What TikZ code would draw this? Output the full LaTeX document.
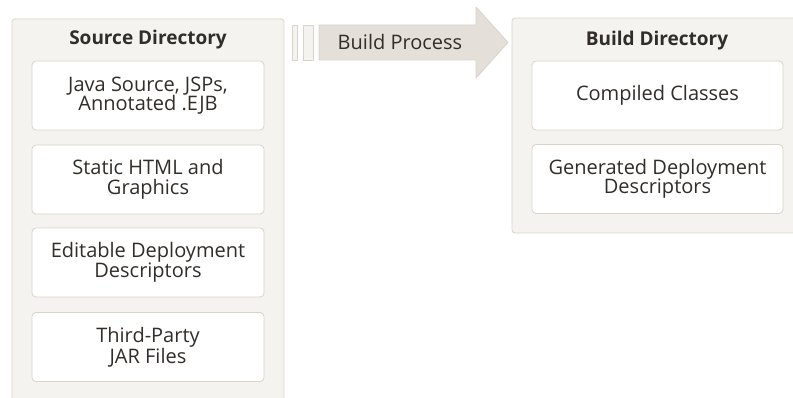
\documentclass[tikz,border=0pt]{standalone}
\usepackage{fontspec}
\setmainfont{Open Sans}
\usepackage{xcolor}
\definecolor{frame}{HTML}{D9D3C9}
\definecolor{panel}{HTML}{F5F3EF}
\definecolor{flow}{HTML}{E4DFD8}
\definecolor{ink}{HTML}{312D2A}

\begin{document}
\begin{tikzpicture}[x=1pt,y=-1pt]
    \tikzstyle{dir}=[draw=frame,fill=panel,line width=.8pt,rounded corners=3pt,inner sep=0pt]
    \tikzstyle{item}=[draw=frame,fill=white,line width=.8pt,rounded corners=4pt,align=center,text=ink,font=\fontsize{20}{19.5}\selectfont,inner sep=0pt]
    \tikzstyle{title}=[text=ink,font=\fontsize{19}{20}\selectfont\bfseries]
    \tikzstyle{bar}=[draw=frame,fill=panel,line width=.8pt]
    \tikzstyle{flowarrow}=[draw=frame,fill=flow,line width=.8pt,line join=round]
    \useasboundingbox (0,0) rectangle (793,398);
    % directories
    \node[dir,minimum width=272pt,minimum height=390pt] (src) at (148,214) {};
    \node[dir,minimum width=290pt,minimum height=215pt] (bld) at (657,125.5) {};
    \node[title] (srct) at (148,40) {Source Directory};
    \node[title] (bldt) at (657,41) {Build Directory};
    % source items
    \node[item,minimum width=232pt,minimum height=69pt] (java) at (148,95.5) {Java Source, JSPs,\\Annotated .EJB};
    \node[item,minimum width=232pt,minimum height=69pt] (html) at (148,179.5) {Static HTML and\\Graphics};
    \node[item,minimum width=232pt,minimum height=69pt] (edd) at (148,262.5) {Editable Deployment\\Descriptors};
    \node[item,minimum width=232pt,minimum height=69pt] (jar) at (148,347) {Third-Party\\JAR Files};
    % build items
    \node[item,minimum width=251pt,minimum height=69pt] (cls) at (657.5,95.5) {Compiled Classes};
    \node[item,minimum width=251pt,minimum height=69pt] (gdd) at (657.5,179) {Generated Deployment\\Descriptors};
    % build process arrow
    \draw[bar] (292,25) rectangle (297,60);
    \draw[bar] (303,25) rectangle (313,60);
    \draw[flowarrow] (319,25) -- (476,25) -- (476,7) -- (508,42.5) -- (476,78) -- (476,60) -- (319,60) -- cycle;
    \node[text=ink,font=\fontsize{20}{20}\selectfont] (proc) at (400,42.5) {Build Process};
\end{tikzpicture}
\end{document}
